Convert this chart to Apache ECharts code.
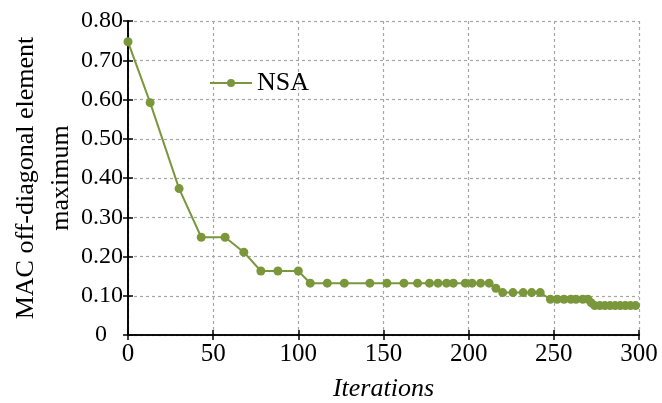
<!DOCTYPE html>
<html>
<head>
<meta charset="utf-8">
<script src="https://cdn.jsdelivr.net/npm/echarts@6/dist/echarts.min.js"></script>
<style>
  html, body { margin: 0; padding: 0; background: #fff; }
  #chart { width: 662px; height: 403px; }
</style>
</head>
<body>
<div id="chart"></div>
<script>
// Optimisation history: largest off-diagonal MAC term per iteration
const iterations = [0, 13, 30, 43, 57, 68, 78, 88, 100, 107, 117, 127, 142, 152, 162, 170, 177, 182, 187, 191,
  198, 202, 207, 212, 216, 220, 226, 232, 237, 242, 248, 252, 256, 260, 263, 267, 270, 272,
  274, 277, 280, 283, 286, 289, 292, 295, 298];
const macMax = [0.747, 0.592, 0.373, 0.249, 0.249, 0.211, 0.163, 0.163, 0.163, 0.132, 0.132, 0.132, 0.132, 0.132,
  0.132, 0.132, 0.132, 0.132, 0.132, 0.132, 0.132, 0.132, 0.132, 0.132, 0.119, 0.108, 0.108, 0.108, 0.108, 0.108,
  0.091, 0.091, 0.091, 0.091, 0.091, 0.091, 0.091, 0.082,
  0.075, 0.075, 0.075, 0.075, 0.075, 0.075, 0.075, 0.075, 0.075];
const xTicks = [0, 50, 100, 150, 200, 250, 300];
const yTicks = [0, 0.1, 0.2, 0.3, 0.4, 0.5, 0.6, 0.7, 0.8];
const seriesName = 'NSA';

const FONT = '"Liberation Serif", "DejaVu Serif", serif';
const GREEN = '#7a973c';

const chart = echarts.init(document.getElementById('chart'), null, { renderer: 'canvas' });

const frameAxis = {
  axisLine: { show: true, lineStyle: { color: '#000', width: 1.6 } },
  axisTick: { show: true, inside: true, length: 5, lineStyle: { color: '#000', width: 1.5 } },
  axisLabel: { show: false },
  splitLine: { show: false }
};

chart.setOption({
  animation: false,
  textStyle: { fontFamily: FONT },
  grid: { left: 128, right: 23, top: 21, bottom: 68, containLabel: false, outerBoundsMode: 'none' },
  legend: {
    data: [seriesName],
    left: 204,
    top: 65,
    itemWidth: 42,
    itemHeight: 10,
    itemGap: 8,
    textStyle: { fontFamily: FONT, fontSize: 26, color: '#000' }
  },
  xAxis: [
    {
      type: 'value',
      min: xTicks[0],
      max: xTicks[xTicks.length - 1],
      interval: xTicks[1] - xTicks[0],
      name: 'Iterations',
      nameLocation: 'middle',
      nameGap: 41,
      nameTextStyle: { fontFamily: FONT, fontSize: 26, fontStyle: 'italic', color: '#000' },
      axisLine: { lineStyle: { color: '#000', width: 1.6 } },
      axisTick: { inside: true, length: 5, lineStyle: { color: '#000', width: 1.5 } },
      axisLabel: { fontFamily: FONT, fontSize: 25, color: '#000', margin: 7 },
      splitLine: { show: true, lineStyle: { color: '#a6a6a6', type: [3, 3], width: 1.2 } }
    },
    Object.assign({
      type: 'value', position: 'top',
      min: xTicks[0], max: xTicks[xTicks.length - 1], interval: xTicks[1] - xTicks[0]
    }, frameAxis)
  ],
  yAxis: [
    {
      type: 'value',
      min: yTicks[0],
      max: yTicks[yTicks.length - 1],
      interval: 0.1,
      name: 'MAC off-diagonal element\nmaximum',
      nameLocation: 'middle',
      nameGap: 49,
      nameMoveOverlap: false,
      nameRotate: 90,
      nameTextStyle: { fontFamily: FONT, fontSize: 26, color: '#000', lineHeight: 35 },
      axisLine: { show: true, lineStyle: { color: '#000', width: 1.6 } },
      axisTick: { show: true, inside: true, length: 5, lineStyle: { color: '#000', width: 1.5 } },
      axisLabel: {
        fontFamily: FONT, fontSize: 24, color: '#000', margin: 5,
        formatter: v => (v === 0 ? '{z|0}' : v.toFixed(2)),
        rich: { z: { fontFamily: FONT, fontSize: 24, color: '#000', padding: [0, 16, 0, 0] } }
      },
      splitLine: { show: true, lineStyle: { color: '#a6a6a6', type: [3, 3], width: 1.2 } }
    },
    Object.assign({
      type: 'value', position: 'right',
      min: yTicks[0], max: yTicks[yTicks.length - 1], interval: 0.1
    }, frameAxis)
  ],
  series: [
    {
      name: seriesName,
      type: 'line',
      xAxisIndex: 0,
      yAxisIndex: 0,
      data: iterations.map((it, i) => [it, macMax[i]]),
      symbol: 'circle',
      symbolSize: 9,
      showSymbol: true,
      lineStyle: { color: GREEN, width: 2 },
      itemStyle: { color: GREEN },
      z: 5
    }
  ]
});
</script>
</body>
</html>
